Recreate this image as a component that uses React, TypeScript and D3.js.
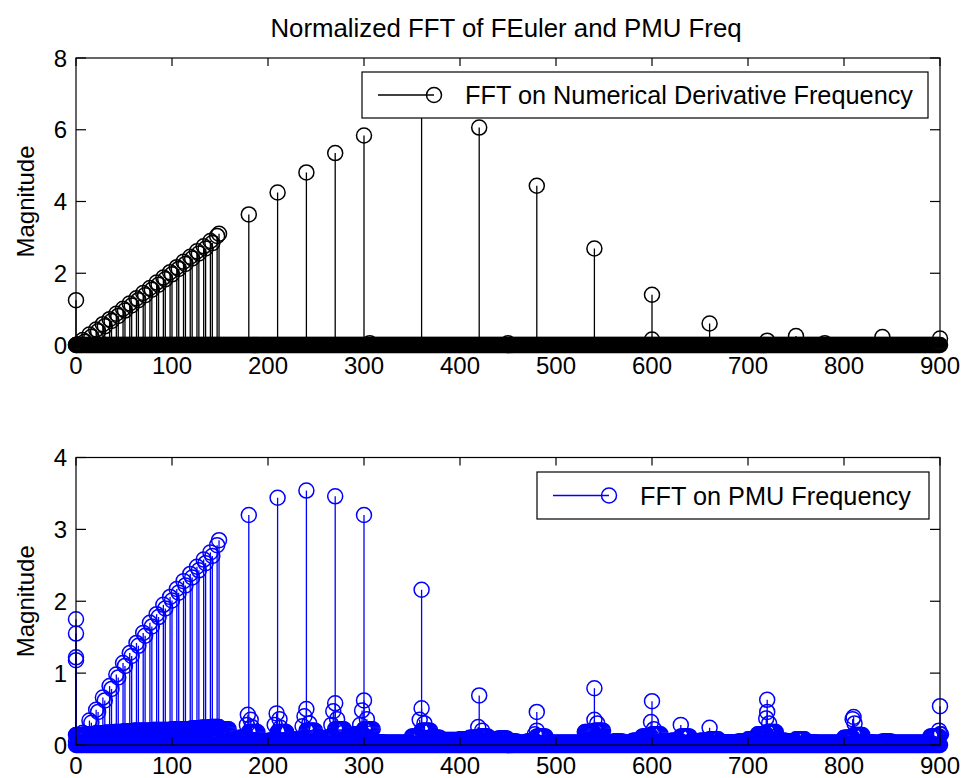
import React from 'react';
import * as d3 from 'd3';

// ---------- data ----------
const xTicks = [0, 100, 200, 300, 400, 500, 600, 700, 800, 900];
const topYTicks = [0, 2, 4, 6, 8];
const bottomYTicks = [0, 1, 2, 3, 4];

// FFT frequency bins (categories)
const freqBins = d3.range(0, 901, 1);
const rampFreqs = [0, 7, 14, 21, 28, 35, 42, 49, 56, 63, 70, 77, 84, 91, 98, 105, 112, 119, 126, 133, 140, 147];
const rampSideFreqs = [2, 9, 16, 23, 30, 37, 44, 51, 58, 65, 72, 79, 86, 93, 100, 107, 114, 121, 128, 135, 142, 149];

// Top: FFT on numerical derivative frequency
const topRampValues = [
  0.0, 0.14, 0.29, 0.43, 0.58, 0.72, 0.87, 1.01, 1.16, 1.3, 1.45,
  1.59, 1.74, 1.88, 2.03, 2.17, 2.32, 2.46, 2.61, 2.75, 2.9, 3.04,
];
const topRampSideValues = [
  0.02, 0.09, 0.23, 0.38, 0.52, 0.67, 0.81, 0.96, 1.1, 1.25, 1.39,
  1.54, 1.68, 1.83, 1.97, 2.12, 2.26, 2.41, 2.55, 2.69, 2.84, 3.1,
];
const topPeaks: [number, number][] = [
  [0, 1.25], [180, 3.64], [210, 4.25], [240, 4.81], [270, 5.35], [300, 5.84],
  [306, 0.05], [360, 6.7], [420, 6.06], [450, 0.05], [480, 4.44], [540, 2.69],
  [600, 1.4], [600, 0.15], [660, 0.6], [720, 0.12], [750, 0.25], [780, 0.05],
  [840, 0.22], [900, 0.18],
];

// Bottom: FFT on PMU frequency
const bottomRampValues = [
  0.05, 0.17, 0.34, 0.49, 0.66, 0.82, 0.98, 1.14, 1.28, 1.42, 1.56,
  1.7, 1.82, 1.95, 2.06, 2.17, 2.28, 2.38, 2.48, 2.58, 2.68, 2.78,
];
const bottomRampSideValues = [
  0.04, 0.15, 0.31, 0.46, 0.62, 0.78, 0.94, 1.1, 1.24, 1.38, 1.52,
  1.65, 1.78, 1.9, 2.01, 2.12, 2.22, 2.33, 2.43, 2.53, 2.63, 2.85,
];
const bottomPeaks: [number, number][] = [
  [0, 1.75], [0, 1.55], [0, 1.22], [0, 1.18],
  [180, 3.2], [210, 3.44], [240, 3.54], [270, 3.46], [300, 3.2], [360, 2.16],
  [420, 0.69], [480, 0.46], [540, 0.79], [600, 0.61], [630, 0.28], [660, 0.24],
  [720, 0.63], [810, 0.39], [900, 0.54],
];
const bottomClusters: [number, number][] = [
  [179, 0.42], [182, 0.35], [178, 0.28], [183, 0.25],
  [209, 0.44], [212, 0.36], [207, 0.28], [213, 0.24],
  [240, 0.5], [238, 0.4], [243, 0.3], [236, 0.26],
  [270, 0.58], [268, 0.47], [272, 0.36], [266, 0.28],
  [300, 0.62], [298, 0.48], [303, 0.36], [296, 0.28],
  [360, 0.51], [358, 0.35], [363, 0.3],
  [419, 0.25], [423, 0.2],
  [480, 0.2], [478, 0.15],
  [540, 0.35], [543, 0.3],
  [599, 0.32], [602, 0.22],
  [720, 0.46], [719, 0.37], [722, 0.3],
  [809, 0.36], [811, 0.3],
  [899, 0.2], [901, 0.15],
];
// noise floor level per 10-Hz block (0, 10, ..., 900)
const bottomFloorLevels = [
  0.14, 0.15, 0.16, 0.17, 0.18, 0.19, 0.2, 0.2, 0.21, 0.21,
  0.22, 0.22, 0.23, 0.24, 0.25, 0.22, 0.03, 0.1, 0.18, 0.05,
  0.06, 0.18, 0.05, 0.08, 0.2, 0.05, 0.1, 0.22, 0.08, 0.15,
  0.22, 0.04, 0.03, 0.03, 0.03, 0.12, 0.2, 0.1, 0.07, 0.07,
  0.08, 0.1, 0.12, 0.08, 0.09, 0.05, 0.03, 0.05, 0.12, 0.03,
  0.03, 0.03, 0.03, 0.18, 0.2, 0.03, 0.05, 0.03, 0.06, 0.12,
  0.15, 0.05, 0.06, 0.12, 0.05, 0.06, 0.08, 0.04, 0.04, 0.05,
  0.08, 0.15, 0.18, 0.06, 0.05, 0.08, 0.04, 0.03, 0.03, 0.03,
  0.1, 0.14, 0.04, 0.03, 0.05, 0.03, 0.03, 0.03, 0.03, 0.12,
  0.15,
];

// ---------- layout ----------
const W = 963;
const H = 778;
const FONT = '"Liberation Sans", Arial, Helvetica, sans-serif';
const R = 7.5;

type Pt = { f: number; v: number };

function Panel({
  y0, y1, yMax, yTicks, color, series, legendText, legend,
}: {
  y0: number; y1: number; yMax: number; yTicks: number[]; color: string;
  series: Pt[]; legendText: string;
  legend: { x0: number; x1: number; y0: number; y1: number; lx0: number; lx1: number; tx: number };
}) {
  const x = d3.scaleLinear().domain([0, 900]).range([76, 940]);
  const y = d3.scaleLinear().domain([0, yMax]).range([y1, y0]);
  const ly = (legend.y0 + legend.y1) / 2;
  return (
    <g>
      <rect x={76} y={y0} width={864} height={y1 - y0} fill="#fff" />
      {series.map((d, i) => (
        <line key={'s' + i} x1={x(d.f)} x2={x(d.f)} y1={y(0)} y2={y(d.v)} stroke={color} strokeWidth={1.3} />
      ))}
      {series.map((d, i) => (
        <circle key={'c' + i} cx={x(d.f)} cy={y(d.v)} r={R} fill="none" stroke={color} strokeWidth={1.5} />
      ))}
      {/* axes box */}
      <rect x={76} y={y0} width={864} height={y1 - y0} fill="none" stroke="#000" strokeWidth={1.2} />
      {xTicks.map((t) => (
        <g key={'xt' + t}>
          <line x1={x(t)} x2={x(t)} y1={y1} y2={y1 - 8} stroke="#000" strokeWidth={1.2} />
          <line x1={x(t)} x2={x(t)} y1={y0} y2={y0 + 8} stroke="#000" strokeWidth={1.2} />
          <text x={x(t)} y={y1 + 29} textAnchor="middle" fontSize={24} fontFamily={FONT}>{t}</text>
        </g>
      ))}
      {yTicks.map((t) => (
        <g key={'yt' + t}>
          <line x1={76} x2={86} y1={y(t)} y2={y(t)} stroke="#000" strokeWidth={1.2} />
          <line x1={940} x2={930} y1={y(t)} y2={y(t)} stroke="#000" strokeWidth={1.2} />
          <text x={67} y={y(t) + 8.5} textAnchor="end" fontSize={24} fontFamily={FONT}>{t}</text>
        </g>
      ))}
      <text
        transform={`translate(34,${(y0 + y1) / 2}) rotate(-90)`}
        textAnchor="middle" fontSize={24} fontFamily={FONT}
      >Magnitude</text>
      {/* legend */}
      <rect x={legend.x0} y={legend.y0} width={legend.x1 - legend.x0} height={legend.y1 - legend.y0}
        fill="#fff" stroke="#000" strokeWidth={1.2} />
      <line x1={legend.lx0} x2={legend.lx1} y1={ly} y2={ly} stroke={color} strokeWidth={1.3} />
      <circle cx={legend.lx1} cy={ly} r={R} fill="none" stroke={color} strokeWidth={1.5} />
      <text x={legend.tx} y={ly + 9} fontSize={25.3} fontFamily={FONT}>{legendText}</text>
    </g>
  );
}

export default function App() {
  const topSeries: Pt[] = [
    ...freqBins.map((f) => ({ f, v: 0 })),
    ...rampFreqs.map((f, i) => ({ f, v: topRampValues[i] })),
    ...rampSideFreqs.map((f, i) => ({ f, v: topRampSideValues[i] })),
    ...topPeaks.map(([f, v]) => ({ f, v })),
  ];
  const bottomSeries: Pt[] = [
    ...freqBins.map((f) => ({ f, v: 0 })),
    ...freqBins.map((f) => ({ f, v: bottomFloorLevels[Math.floor(f / 10)] })),
    ...rampFreqs.map((f, i) => ({ f, v: bottomRampValues[i] })),
    ...rampSideFreqs.map((f, i) => ({ f, v: bottomRampSideValues[i] })),
    ...bottomClusters.map(([f, v]) => ({ f, v })),
    ...bottomPeaks.map(([f, v]) => ({ f, v })),
  ];
  return (
    <svg width={W} height={H} style={{ position: 'absolute', left: 0, top: 0, background: '#fff' }}>
      <rect width={W} height={H} fill="#fff" />
      <text x={506} y={37} textAnchor="middle" fontSize={25.8} fontFamily={FONT}>
        Normalized FFT of FEuler and PMU Freq
      </text>
      <Panel
        y0={58} y1={345} yMax={8} yTicks={topYTicks} color="#000" series={topSeries}
        legendText="FFT on Numerical Derivative Frequency"
        legend={{ x0: 362, x1: 928, y0: 72, y1: 118, lx0: 378, lx1: 434, tx: 465 }}
      />
      <Panel
        y0={457.5} y1={745} yMax={4} yTicks={bottomYTicks} color="#0000ff" series={bottomSeries}
        legendText="FFT on PMU Frequency"
        legend={{ x0: 537, x1: 929, y0: 472, y1: 519, lx0: 553, lx1: 609, tx: 640 }}
      />
    </svg>
  );
}
